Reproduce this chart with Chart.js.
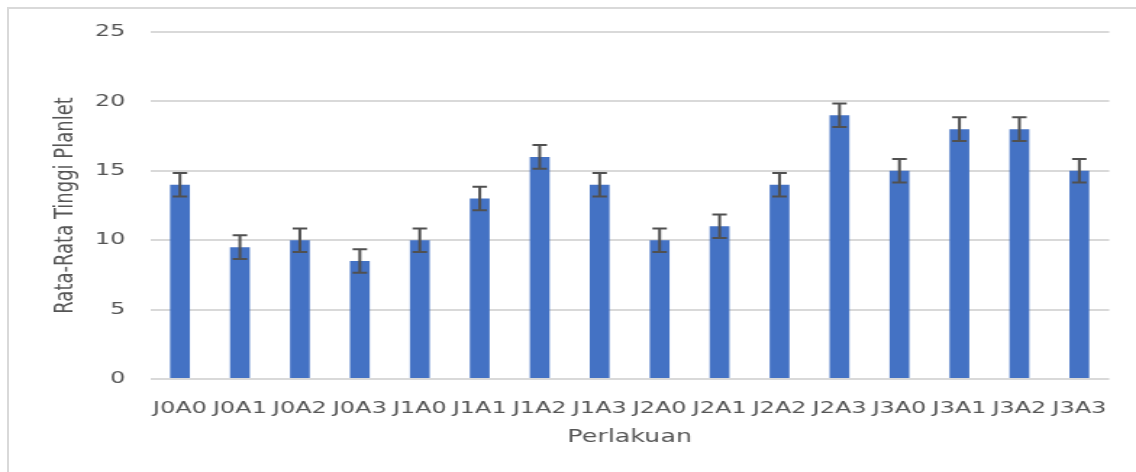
<!DOCTYPE HTML>
<html>
<head>
    <script src="https://cdn.jsdelivr.net/npm/chart.js"></script>
    <style>
        body { margin: 0; background: #ffffff; overflow: hidden; }
        #frame { position: absolute; left: 7px; top: 7px; width: 1300px; height: 600px; border: 2px solid #d9d9d9; }
        #chartBox { position: absolute; left: 0; top: 0; width: 784px; height: 472px; transform: scaleX(1.449); transform-origin: 0 0; }
    </style>
</head>
<body>

<div id="frame"></div>
<div id="chartBox">
    <canvas id="myChart" width="784" height="472"></canvas>
</div>

<script type="text/javascript">

    const labels = ['J0A0','J0A1','J0A2','J0A3','J1A0','J1A1','J1A2','J1A3','J2A0','J2A1','J2A2','J2A3','J3A0','J3A1','J3A2','J3A3'];
    const tinggi = [14, 9.5, 10, 8.5, 10, 13, 16, 14, 10, 11, 14, 19, 15, 18, 18, 15];
    const galat = [0.85, 0.85, 0.85, 0.85, 0.85, 0.85, 0.85, 0.85, 0.85, 0.85, 0.85, 0.85, 0.85, 0.85, 0.85, 0.85];
    const yTicks = [0, 5, 10, 15, 20, 25];

    const textColor = '#555555';

    // error bars drawn on top of the bars
    const errorBars = {
        id: 'errorBars',
        afterDatasetsDraw(chart) {
            const ctx = chart.ctx;
            const yScale = chart.scales.y;
            const meta = chart.getDatasetMeta(0);
            ctx.save();
            ctx.strokeStyle = '#505050';
            ctx.lineWidth = 2;
            meta.data.forEach((bar, i) => {
                const top = yScale.getPixelForValue(tinggi[i] + galat[i]);
                const bottom = yScale.getPixelForValue(tinggi[i] - galat[i]);
                const cap = 5;
                ctx.beginPath();
                ctx.moveTo(bar.x, top);
                ctx.lineTo(bar.x, bottom);
                ctx.moveTo(bar.x - cap, top);
                ctx.lineTo(bar.x + cap, top);
                ctx.moveTo(bar.x - cap, bottom);
                ctx.lineTo(bar.x + cap, bottom);
                ctx.stroke();
            });
            ctx.restore();
        }
    };

    const data = {
        labels: labels,
        datasets: [{
            label: 'Rata-Rata Tinggi Planlet',
            backgroundColor: '#4472C4',
            borderWidth: 0,
            data: tinggi,
            categoryPercentage: 1,
            barPercentage: 0.33
        }]
    };

    const config = {
        type: 'bar',
        data: data,
        plugins: [errorBars],
        options: {
            responsive: false,
            animation: false,
            layout: { padding: { left: 0, right: 18, top: 32, bottom: 0 } },
            plugins: {
                legend: { display: false },
                tooltip: { enabled: false }
            },
            scales: {
                x: {
                    afterFit: (scale) => { scale.height = 93; },
                    grid: { display: false, drawTicks: false },
                    border: { display: false },
                    ticks: {
                        color: textColor,
                        padding: 20,
                        maxRotation: 0,
                        autoSkip: false,
                        font: { family: 'DejaVu Sans', size: 16.5 }
                    },
                    title: {
                        display: true,
                        text: 'Perlakuan',
                        color: textColor,
                        padding: { top: 0, bottom: 24 },
                        font: { family: 'DejaVu Sans', size: 17.5 }
                    }
                },
                y: {
                    min: 0,
                    max: 25,
                    afterFit: (scale) => { scale.width = 103.5; },
                    afterBuildTicks: (scale) => { scale.ticks = yTicks.map(v => ({ value: v })); },
                    grid: { color: '#d9d9d9', lineWidth: 2, drawTicks: false },
                    border: { display: false },
                    ticks: {
                        color: textColor,
                        padding: 17,
                        font: { family: 'DejaVu Sans', size: 16.5 }
                    },
                    title: {
                        display: true,
                        text: 'Rata-Rata Tinggi Planlet',
                        color: textColor,
                        padding: { top: 35, bottom: 0 },
                        font: { family: 'DejaVu Sans', size: 18 }
                    }
                }
            }
        }
    };

    const myChart = new Chart(document.getElementById('myChart'), config);

</script>
</body>
</html>
